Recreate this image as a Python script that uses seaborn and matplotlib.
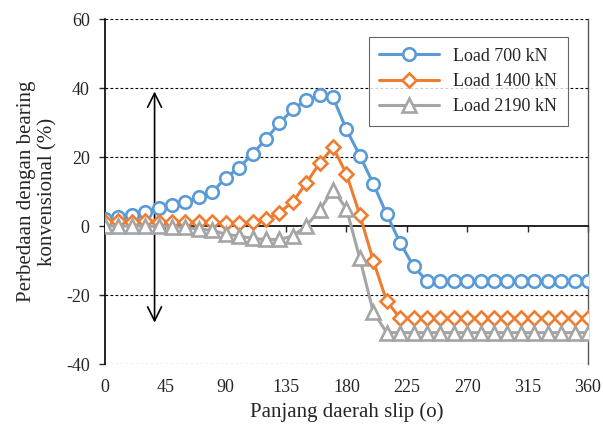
import matplotlib
matplotlib.use('Agg')
import matplotlib.pyplot as plt
import seaborn as sns

# slip region length (degrees)
slip = [0, 10, 20, 30, 40, 50, 60, 70, 80, 90, 100, 110, 120, 130, 140, 150, 160, 170, 180,
        190, 200, 210, 220, 230, 240, 250, 260, 270, 280, 290, 300, 310, 320, 330, 340, 350, 360]

load_700 = [2.0, 2.7, 3.2, 4.0, 5.3, 6.0, 7.0, 8.3, 9.8, 14.0, 16.9, 20.9, 25.2, 29.8, 33.8, 36.5, 38.0, 37.3, 28.0,
            20.4, 12.3, 3.4, -4.8, -11.7, -15.9, -15.9, -15.9, -15.9, -15.9, -15.9, -15.9, -15.9, -15.9, -15.9, -15.9, -15.9, -15.9]

load_1400 = [1.2, 1.4, 1.2, 1.4, 1.3, 1.2, 1.2, 1.3, 1.1, 0.8, 0.8, 1.2, 1.9, 3.9, 7.0, 12.4, 18.2, 22.8, 15.1,
             3.2, -10.0, -21.8, -26.7, -26.7, -26.7, -26.7, -26.7, -26.7, -26.7, -26.7, -26.7, -26.7, -26.7, -26.7, -26.7, -26.7, -26.7]

load_2190 = [0.0, 0.0, 0.0, 0.0, -0.1, -0.2, -0.4, -0.9, -1.2, -2.4, -2.9, -3.6, -3.9, -3.9, -2.9, 0.0, 4.6, 10.5, 5.0,
             -9.4, -24.9, -30.9, -30.9, -30.9, -30.9, -30.9, -30.9, -30.9, -30.9, -30.9, -30.9, -30.9, -30.9, -30.9, -30.9, -30.9, -30.9]

series = [
    ('Load 700 kN', load_700, '#5B9BD5', 'o', 9),
    ('Load 1400 kN', load_1400, '#ED7D31', 'D', 7.5),
    ('Load 2190 kN', load_2190, '#A5A5A5', '^', 9.5),
]

sns.set_style('white')
plt.rcParams['font.family'] = ['Liberation Serif', 'DejaVu Serif']
plt.rcParams['axes.unicode_minus'] = False

fig = plt.figure(figsize=(6.03, 4.28), dpi=100)
ax = fig.add_axes([0.174, 0.1495, 0.801, 0.806])

# dashed gridlines
for yv in [60, 40, 20, -20, -40]:
    ax.axhline(yv, color='black', lw=0.8, ls=(0, (2.5, 2)), zorder=0)

# double arrow
ax.annotate('', xy=(37, 39), xytext=(37, -28),
            arrowprops=dict(arrowstyle='<->', color='black', lw=1.2,
                            mutation_scale=25, shrinkA=0, shrinkB=0),
            zorder=1)

for name, vals, col, mk, ms in series:
    sns.lineplot(x=slip, y=vals, ax=ax, color=col, lw=2.2, marker=mk, markersize=ms,
                 markerfacecolor='white', markeredgecolor=col, markeredgewidth=1.9,
                 label=name, zorder=3)

ax.set_xlim(0, 360)
ax.set_ylim(-40, 60)
ax.set_yticks([-40, -20, 0, 20, 40, 60])
ax.set_xticks([0, 45, 90, 135, 180, 225, 270, 315, 360])

# horizontal axis crossing at zero
ax.spines['bottom'].set_position(('data', 0))
ax.spines['bottom'].set_color('black')
ax.spines['bottom'].set_linewidth(1.2)
ax.spines['left'].set_color('black')
ax.spines['left'].set_linewidth(1.2)
ax.spines['top'].set_visible(False)
ax.spines['right'].set_color('#595959')
ax.spines['right'].set_linewidth(1.0)
ax.tick_params(axis='x', direction='out', length=4, width=1, labelbottom=False, bottom=True)
ax.tick_params(axis='y', direction='out', length=4, width=1, labelsize=13, pad=7, left=True)

sec = ax.secondary_xaxis(location=0)
sec.set_xticks([0, 45, 90, 135, 180, 225, 270, 315, 360])
sec.tick_params(length=0, labelsize=13, pad=11)
sec.spines['bottom'].set_visible(False)
sec.set_xlabel('Panjang daerah slip (o)', fontsize=15, labelpad=4)

ax.set_ylabel('Perbedaan dengan bearing\nkonvensional (%)', fontsize=15, labelpad=6, linespacing=1.15)

leg = ax.legend(loc='upper right', bbox_to_anchor=(0.959, 0.948), borderaxespad=0,
                fontsize=13, handlelength=3.3, frameon=True, fancybox=False,
                borderpad=0.6, labelspacing=0.45, handletextpad=0.8)
leg.get_frame().set_edgecolor('#404040')
leg.get_frame().set_linewidth(0.8)

fig.savefig('out.png', dpi=100)
